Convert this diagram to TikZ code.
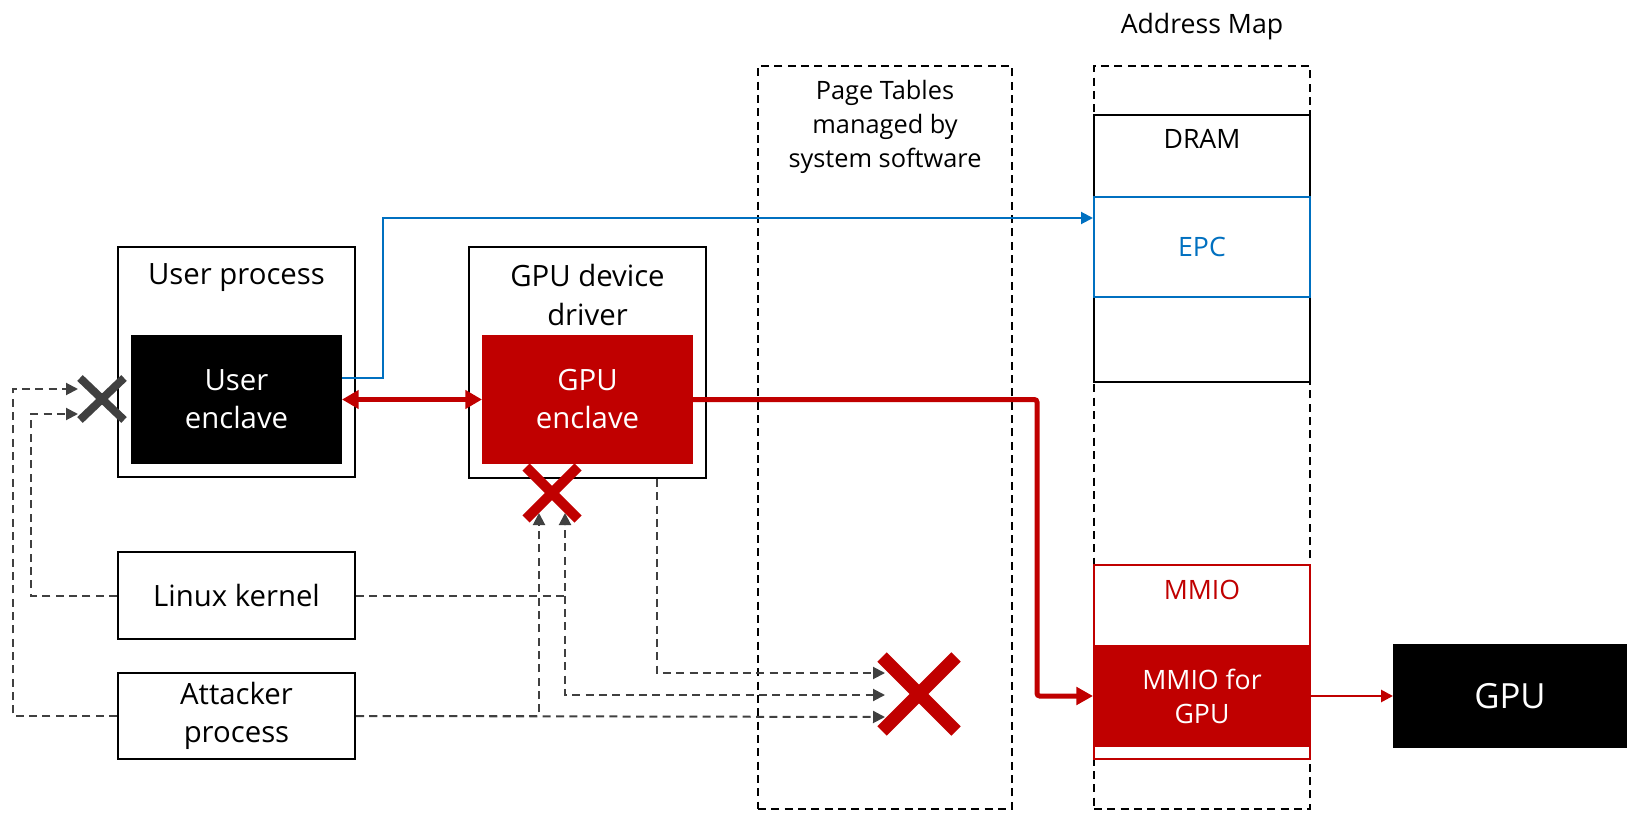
\documentclass[tikz,border=0pt]{standalone}
\usepackage{fontspec}
\setmainfont{Open Sans}
\usetikzlibrary{arrows.meta,calc}

\definecolor{epcblue}{HTML}{0070C0}
\definecolor{encred}{HTML}{C00000}
\definecolor{dashgray}{HTML}{404040}

\tikzset{
    bigtext/.style={font=\fontsize{22}{28.5}\selectfont,align=center},
    smalltext/.style={font=\fontsize{20}{25.5}\selectfont,align=center},
    box/.style={draw=black,line width=1.5pt,inner sep=0pt},
    column/.style={draw=black,line width=1.5pt,dash pattern=on 6pt off 4pt,inner sep=0pt},
    attack/.style={draw=dashgray,line width=1.5pt,dash pattern=on 6pt off 4pt,
        -{Triangle[length=9pt,width=9pt]}},
    xmark/.style={line width=#1,line cap=butt},
}

\begin{document}
\begin{tikzpicture}[x=0.75pt,y=-0.75pt]
    \useasboundingbox (0,0) rectangle (1632,820);

    % columns on the right
    \node[column,minimum width=190.5pt,minimum height=557.25pt] (pt) at (885,437.5) {};
    \node[smalltext,font=\fontsize{19}{25.5}\selectfont] (ptlbl) at (885,127) {Page Tables\\managed by\\system software};
    \node[column,minimum width=162pt,minimum height=557.25pt] (amap) at (1202,437.5) {};
    \node[smalltext] (amaplbl) at (1202,27) {Address Map};
    \node[box,fill=white,minimum width=162pt,minimum height=200.25pt] (dram) at (1202,248.5) {};
    \node[smalltext] (dramlbl) at (1202,139) {DRAM};
    \node[box,draw=epcblue,line width=1.5pt,minimum width=162pt,minimum height=75pt,
        smalltext,text=epcblue] (epc) at (1202,247) {EPC};
    \node[box,draw=encred,fill=white,minimum width=162pt,minimum height=145.5pt] (mmio) at (1202,662) {};
    \node[smalltext,text=encred] (mmiolbl) at (1202,590) {MMIO};
    \node[box,draw=encred,fill=encred,minimum width=162pt,minimum height=75pt,
        smalltext,text=white] (mmiogpu) at (1202,696) {MMIO for\\GPU};
    \node[box,fill=black,minimum width=174pt,minimum height=76.5pt,
        font=\fontsize{26}{30}\selectfont,text=white] (gpu) at (1510,696) {GPU};

    % software boxes
    \node[box,minimum width=177.75pt,minimum height=172.5pt] (user) at (236.5,362) {};
    \node[bigtext] (userlbl) at (236.5,278) {User process};
    \node[box,fill=black,minimum width=156.75pt,minimum height=95.25pt,
        bigtext,text=white] (uenc) at (236.5,399.5) {User\\enclave};
    \node[box,minimum width=177.75pt,minimum height=173pt] (driver) at (587.5,362.5) {};
    \node[bigtext] (driverlbl) at (587.5,295) {GPU device\\driver};
    \node[box,draw=encred,fill=encred,minimum width=156.75pt,minimum height=95.25pt,
        bigtext,text=white] (genc) at (587.5,399.5) {GPU\\enclave};
    \node[box,minimum width=177.75pt,minimum height=65pt,bigtext] (linux) at (236.5,595.5) {Linux kernel};
    \node[box,minimum width=177.75pt,minimum height=65pt,bigtext] (attacker) at (236.5,716) {Attacker\\process};

    % blocked end points
    \coordinate (ux) at (102,399);
    \coordinate (ux1) at (78,389);
    \coordinate (ux2) at (78,414);
    \coordinate (gx) at (552,493);
    \coordinate (gx1) at (539,513);
    \coordinate (gx2) at (565,513);
    \coordinate (bx) at (919,694);
    \coordinate (bx1) at (885,673);
    \coordinate (bx2) at (885,695);
    \coordinate (bx3) at (885,717);
    \coordinate (bbend) at (383,218);
    \coordinate (rbend) at (1037,696);

    % legitimate paths
    \draw[epcblue,line width=1.5pt,-{Triangle[length=9pt,width=9pt]}]
        ([yshift=16pt]uenc.east) -| (bbend) -- (bbend -| epc.west);
    \draw[encred,line width=3.75pt,{Triangle[length=12.5pt,width=13.5pt]}-{Triangle[length=12.5pt,width=13.5pt]}]
        (uenc.east) -- (genc.west);
    \draw[encred,line width=3.75pt,rounded corners=2pt,-{Triangle[length=12.5pt,width=13pt]}]
        (genc.east) -| (rbend) -- (mmiogpu.west);
    \draw[encred,line width=2pt,-{Triangle[length=9pt,width=9pt]}] (mmiogpu.east) -- (gpu.west);

    % attacks
    \draw[attack] (attacker.west) -| ($(ux1)+(-65,0)$) -- (ux1);
    \draw[attack] (linux.west) -| ($(ux2)+(-47,0)$) -- (ux2);
    \draw[attack] (attacker.east) -| (gx1);
    \draw[attack] (attacker.east) -- (bx3);
    \draw[attack] (linux.east) -| (gx2);
    \draw[attack] (linux.east -| gx2) |- (bx2);
    \draw[attack] ($(driver.south)+(69.5,0)$) |- (bx1);

    \draw[xmark=6pt,dashgray] ($(ux)+(-22,-21)$) -- ($(ux)+(22,21)$);
    \draw[xmark=6pt,dashgray] ($(ux)+(-22,21)$) -- ($(ux)+(22,-21)$);
    \draw[xmark=7.5pt,encred] ($(gx)+(-26,-26)$) -- ($(gx)+(26,26)$);
    \draw[xmark=7.5pt,encred] ($(gx)+(-26,26)$) -- ($(gx)+(26,-26)$);
    \draw[xmark=10pt,encred] ($(bx)+(-37,-37)$) -- ($(bx)+(37,37)$);
    \draw[xmark=10pt,encred] ($(bx)+(-37,37)$) -- ($(bx)+(37,-37)$);
\end{tikzpicture}
\end{document}
